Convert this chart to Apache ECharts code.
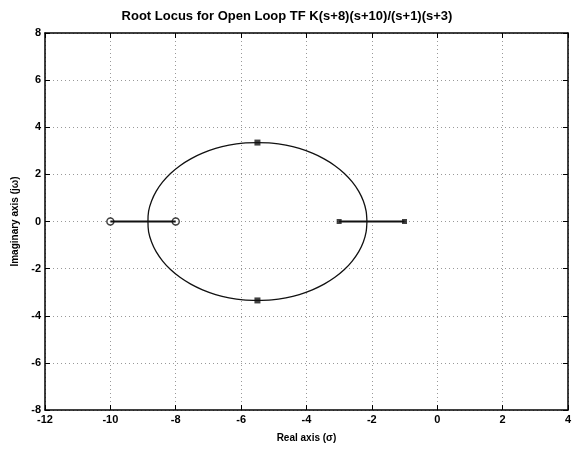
<!DOCTYPE html>
<html><head><meta charset="utf-8">
<script src="https://cdn.jsdelivr.net/npm/echarts@6/dist/echarts.min.js"></script>
<style>html,body{margin:0;padding:0;background:#fff}#c{width:574px;height:450px}</style>
</head><body><div id="c"></div>
<script>
const titleText = 'Root Locus for Open Loop TF K(s+8)(s+10)/(s+1)(s+3)';
const xTicks = [-12,-10,-8,-6,-4,-2,0,2,4];
const yTicks = [-8,-6,-4,-2,0,2,4,6,8];
// complex locus (closed loop)
const locusX = [-2.15,-2.175,-2.26,-2.40,-2.60,-2.84,-3.13,-3.46,-3.82,-4.22,-4.63,-5.06,-5.50,-5.94,-6.37,-6.78,-7.18,-7.54,-7.87,-8.16,-8.40,-8.60,-8.74,-8.83,-8.85,
                -8.83,-8.74,-8.60,-8.40,-8.16,-7.87,-7.54,-7.18,-6.78,-6.37,-5.94,-5.50,-5.06,-4.63,-4.22,-3.82,-3.46,-3.13,-2.84,-2.60,-2.40,-2.26,-2.175,-2.15];
const locusY = [0,0.44,0.87,1.28,1.68,2.04,2.37,2.66,2.90,3.10,3.24,3.33,3.35,3.33,3.24,3.10,2.90,2.66,2.37,2.04,1.68,1.28,0.87,0.44,0,
                -0.44,-0.87,-1.28,-1.68,-2.04,-2.37,-2.66,-2.90,-3.10,-3.24,-3.33,-3.35,-3.33,-3.24,-3.10,-2.90,-2.66,-2.37,-2.04,-1.68,-1.28,-0.87,-0.44,0];
// real-axis branches
const branch1X = [-1,-3], branch1Y = [0,0];
const branch2X = [-8,-10], branch2Y = [0,0];
const polesX = [-1,-3], polesY = [0,0];
const zerosX = [-8,-10], zerosY = [0,0];
const selX = [-5.5,-5.5], selY = [3.35,-3.35];

const zip = (a,b)=>a.map((v,i)=>[v,b[i]]);
const font = 'Liberation Sans, Arial, sans-serif';
const ch = echarts.init(document.getElementById('c'));
const gridLine = {show:true,lineStyle:{color:'#999',type:[1,3],width:1}};
const baseX = {type:'value',min:-12,max:4,interval:2,axisLine:{show:true,onZero:false,lineStyle:{color:'#000',width:1.5}},axisTick:{show:true,inside:true,length:5,lineStyle:{color:'#000'}},splitLine:gridLine};
const baseY = {type:'value',min:-8,max:8,interval:2,axisLine:{show:true,onZero:false,lineStyle:{color:'#000',width:1.5}},axisTick:{show:true,inside:true,length:5,lineStyle:{color:'#000'}},splitLine:gridLine};
ch.setOption({
  animation:false,
  backgroundColor:'#fff',
  title:{text:titleText,left:'center',top:5,textStyle:{fontFamily:font,fontSize:13,fontWeight:'bold',color:'#000'}},
  grid:{left:45,right:6,top:33,bottom:40},
  xAxis:[
    Object.assign({},baseX,{position:'bottom',name:'Real axis (σ)',nameLocation:'middle',nameGap:23,nameTextStyle:{fontFamily:font,fontSize:10,fontWeight:'bold',color:'#000'},axisLabel:{fontFamily:font,fontSize:11,fontWeight:'bold',color:'#000',margin:4}}),
    Object.assign({},baseX,{position:'top',axisLabel:{show:false},splitLine:{show:false}})
  ],
  yAxis:[
    Object.assign({},baseY,{position:'left',name:'Imaginary axis (jω)',nameLocation:'middle',nameGap:25,nameTextStyle:{fontFamily:font,fontSize:10,fontWeight:'bold',color:'#000'},axisLabel:{fontFamily:font,fontSize:11,fontWeight:'bold',color:'#000',margin:4}}),
    Object.assign({},baseY,{position:'right',axisLabel:{show:false},splitLine:{show:false}})
  ],
  series:[
    {type:'line',data:zip(locusX,locusY),smooth:0.3,showSymbol:false,lineStyle:{color:'#111',width:1.3}},
    {type:'line',data:zip(branch1X,branch1Y),showSymbol:false,lineStyle:{color:'#111',width:1.8}},
    {type:'line',data:zip(branch2X,branch2Y),showSymbol:false,lineStyle:{color:'#111',width:1.8}},
    {type:'scatter',data:zip(polesX,polesY),symbol:'rect',symbolSize:5,itemStyle:{color:'#111'}},
    {type:'scatter',data:zip(selX,selY),symbol:'rect',symbolSize:6,itemStyle:{color:'#111'}},
    {type:'scatter',data:zip(zerosX,zerosY),symbol:'circle',symbolSize:7,itemStyle:{color:'#fff',borderColor:'#111',borderWidth:1.5}}
  ]
});
</script></body></html>
